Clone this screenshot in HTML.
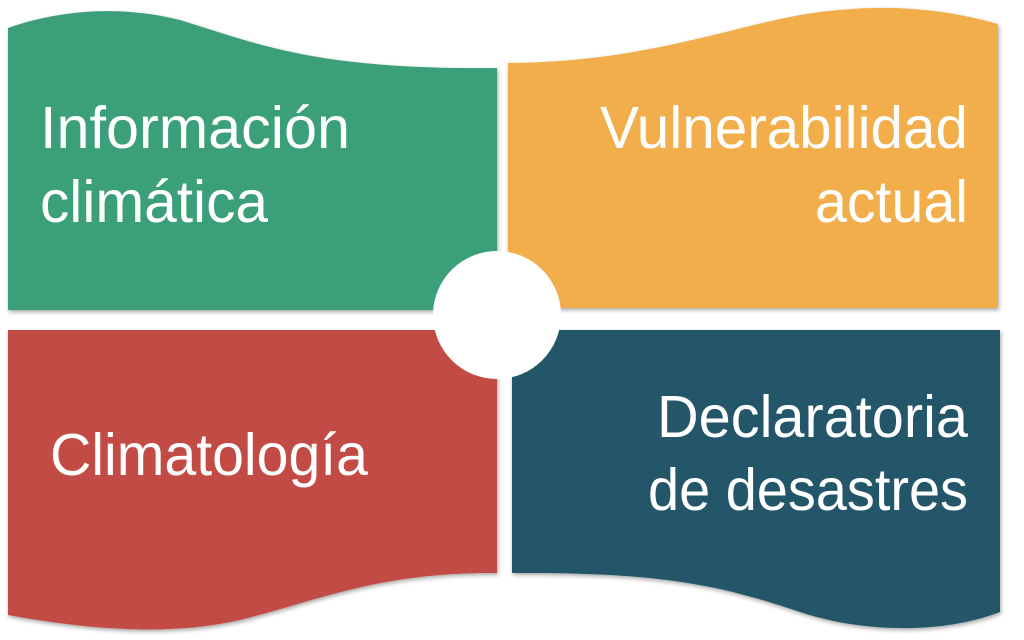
<!DOCTYPE html>
<html><head><meta charset="utf-8"><style>
html,body{margin:0;padding:0;background:#fff;width:1024px;height:640px;overflow:hidden}
svg{display:block}
text{font-family:"Liberation Sans",sans-serif;font-size:59px;fill:#fff}
</style></head><body>
<svg width="1024" height="640" viewBox="0 0 1024 640">
<defs><filter id="s" x="-5%" y="-5%" width="110%" height="110%"><feDropShadow dx="1" dy="2" stdDeviation="2" flood-color="#000" flood-opacity="0.35"/></filter></defs>
<g filter="url(#s)">
<path d="M8 28 C60 10 120 5 180 20 C260 45 320 70 497 68 L497 310 L8 310 Z" fill="#3a9f7a"/>
<path d="M508 63 C640 62 720 30 800 15 C880 2 940 8 998 24 L998 308 L508 308 Z" fill="#f1ae4b"/>
<path d="M8 330 L497 330 L497 573 C380 572 320 600 240 620 C170 636 90 630 8 615 Z" fill="#c24b45"/>
<path d="M512 330 L1000 330 L1000 612 C940 635 860 632 800 612 C720 585 660 572 512 573 Z" fill="#225767"/>
</g>
<circle cx="497" cy="315" r="64" fill="#fff"/>
<text x="40" y="148" textLength="310" lengthAdjust="spacingAndGlyphs">Información</text>
<text x="40" y="222" textLength="228" lengthAdjust="spacingAndGlyphs">climática</text>
<text x="600" y="148" textLength="368" lengthAdjust="spacingAndGlyphs">Vulnerabilidad</text>
<text x="815" y="222" textLength="153" lengthAdjust="spacingAndGlyphs">actual</text>
<text x="50" y="475" textLength="318" lengthAdjust="spacingAndGlyphs">Climatología</text>
<text x="657" y="437" textLength="311" lengthAdjust="spacingAndGlyphs">Declaratoria</text>
<text x="648" y="510" textLength="320" lengthAdjust="spacingAndGlyphs">de desastres</text>
</svg>
</body></html>
